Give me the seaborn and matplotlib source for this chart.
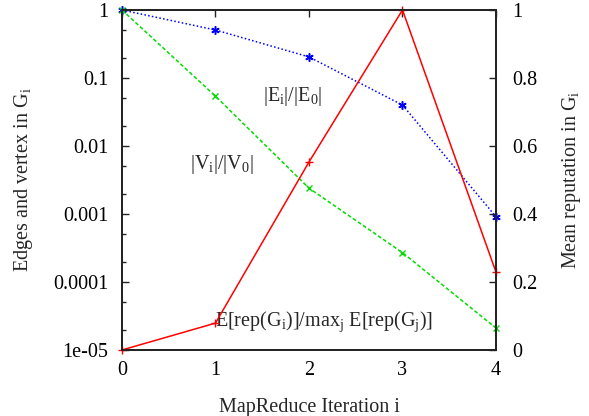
import matplotlib
matplotlib.use("Agg")
import matplotlib.pyplot as plt
import seaborn as sns
import pandas as pd
from matplotlib.ticker import LogLocator, FixedLocator, NullFormatter

# data
iterations = [0, 1, 2, 3, 4]
edges_ratio = [1.0, 0.508, 0.204, 0.040, 0.00091]
vertex_ratio = [1.0, 0.054, 0.0024, 0.00027, 0.000021]
mean_reputation = [0.0, 0.079, 0.553, 1.0, 0.229]
left_ticks = [1e-5, 1e-4, 1e-3, 1e-2, 1e-1, 1]
left_labels = ["1e-05", "0.0001", "0.001", "0.01", "0.1", "1"]
right_ticks = [0, 0.2, 0.4, 0.6, 0.8, 1]
right_labels = ["0", "0.2", "0.4", "0.6", "0.8", "1"]

sns.set_style("white")
plt.rcParams["font.family"] = ["Liberation Serif", "DejaVu Serif"]
plt.rcParams["mathtext.fontset"] = "custom"
plt.rcParams["mathtext.rm"] = "Liberation Serif"
plt.rcParams["mathtext.it"] = "Liberation Serif:italic"

df = pd.DataFrame({"i": iterations, "E": edges_ratio, "V": vertex_ratio,
                   "rep": mean_reputation})

fig = plt.figure(figsize=(5.89, 4.16), dpi=100)
ax = fig.add_axes([0.2071, 0.1587, 0.635, 0.8173])
ax2 = ax.twinx()

sns.lineplot(data=df, x="i", y="E", ax=ax, color="#0000ff", linestyle=(0, (1, 1.5)),
             linewidth=1.1, marker=(6, 2, 0), markersize=6, markeredgewidth=1.1,
             markeredgecolor="#0000ff", clip_on=False)
sns.lineplot(data=df, x="i", y="V", ax=ax, color="#00dd00", linestyle=(0, (2.5, 1.5)),
             linewidth=1.1, marker="x", markersize=5, markeredgewidth=1.0,
             markeredgecolor="#00dd00", clip_on=False)
sns.lineplot(data=df, x="i", y="rep", ax=ax2, color="#ff0000", linestyle="-",
             linewidth=1.1, marker="+", markersize=6, markeredgewidth=1.0,
             markeredgecolor="#ff0000", clip_on=False)

ax.set_yscale("log")
ax.set_xlim(0, 4)
ax.set_ylim(1e-5, 1)
ax2.set_ylim(0, 1)

ax.xaxis.set_major_locator(FixedLocator(iterations))
ax.set_xticklabels([str(v) for v in iterations])
ax.yaxis.set_major_locator(FixedLocator(left_ticks))
ax.set_yticklabels(left_labels)
ax.yaxis.set_minor_locator(LogLocator(base=10, subs=[2, 5]))
ax.yaxis.set_minor_formatter(NullFormatter())
ax2.yaxis.set_major_locator(FixedLocator(right_ticks))
ax2.set_yticklabels(right_labels)

for a in (ax, ax2):
    for s in a.spines.values():
        s.set_linewidth(1.3)
        s.set_color("#222222")
    a.tick_params(labelsize=14.5, colors="#222222", labelcolor="black")
ax.tick_params(axis="x", which="major", direction="in", length=5, width=1,
               top=True, pad=8)
ax.tick_params(axis="y", which="major", direction="in", length=5, width=1, pad=10)
ax.tick_params(axis="y", which="minor", direction="in", length=3, width=1, left=True)
ax2.tick_params(axis="y", which="major", direction="in", length=5, width=1, pad=12)

ax.set_xlabel("MapReduce Iteration i", fontsize=14.5, labelpad=13)
ax.set_ylabel(r"Edges and vertex in G$_\mathrm{i}$", fontsize=14.5, labelpad=13)
ax2.set_ylabel(r"Mean reputation in G$_\mathrm{i}$", fontsize=14.5, labelpad=16)

ax.text(1.51, 0.053, r"|E$_\mathrm{i}$|/|E$_\mathrm{0}$|", fontsize=14.5,
        va="center", ha="left")
ax.text(0.73, 0.0053, r"|V$_\mathrm{i}$|/|V$_\mathrm{0}$|", fontsize=14.5,
        va="center", ha="left")
ax.text(1.0, 2.6e-5, r"E[rep(G$_\mathrm{i}$)]/max$_\mathrm{j}$ E[rep(G$_\mathrm{j}$)]",
        fontsize=14.5, va="center", ha="left")

fig.savefig("out.png", dpi=100)
